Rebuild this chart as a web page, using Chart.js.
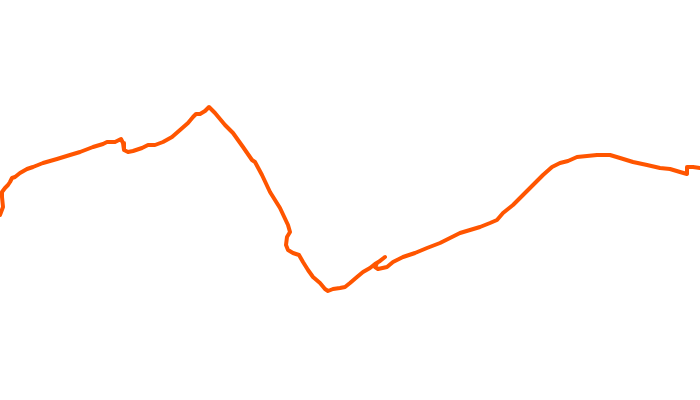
<!DOCTYPE html>
<html>
<head>
<meta charset="utf-8">
<script src="https://cdn.jsdelivr.net/npm/chart.js@4/dist/chart.umd.min.js"></script>
<style>
html,body{margin:0;padding:0;background:#fff;}
#wrap{width:700px;height:400px;}
</style>
</head>
<body>
<div id="wrap"><canvas id="c" width="700" height="400"></canvas></div>
<script>
// Track position (horizontal) and elevation (vertical)
const trackX = [0,3,2,2,5,8,10,12,15,20,27,33,43,57,70,80,93,103,107,115,121,123,124,128,133,142,148,155,163,172,180,188,193,196,200,205,209,215,225,233,243,252,255,262,270,280,288,290,287,286,288,293,299,303,308,313,320,325,328,333,340,345,350,357,363,370,375,380,385,377,375,378,387,393,403,415,427,440,450,460,470,480,490,497,503,513,523,533,543,552,560,568,577,587,597,610,620,633,647,660,670,680,687,687,693,700];
const trackY = [185,193,203,208,212,215,218,222,223,227,231,233,237,241,245,248,253,256,258,258,261,257,250,248,249,252,255,255,258,263,270,277,283,286,286,289,293,287,275,267,253,240,238,225,208,192,175,168,163,155,150,147,145,138,130,123,117,111,109,111,112,113,117,123,128,132,136,139,143,137,133,131,133,138,143,147,152,157,162,167,170,173,177,180,187,195,205,215,225,233,237,239,243,244,245,245,242,238,235,232,231,228,226,233,233,232];

const points = trackX.map((x, i) => ({ x: x, y: trackY[i] }));

new Chart(document.getElementById('c'), {
  type: 'scatter',
  data: {
    datasets: [{
      data: points,
      showLine: true,
      borderColor: '#ff5500',
      backgroundColor: '#ff5500',
      borderWidth: 4,
      borderJoinStyle: 'round',
      borderCapStyle: 'round',
      pointRadius: 0,
      tension: 0,
      fill: false
    }]
  },
  options: {
    responsive: false,
    animation: false,
    layout: { padding: 0 },
    plugins: { legend: { display: false }, tooltip: { enabled: false } },
    scales: {
      x: { type: 'linear', min: 0, max: 700, display: false },
      y: { type: 'linear', min: 0, max: 400, display: false }
    }
  }
});
</script>
</body>
</html>
